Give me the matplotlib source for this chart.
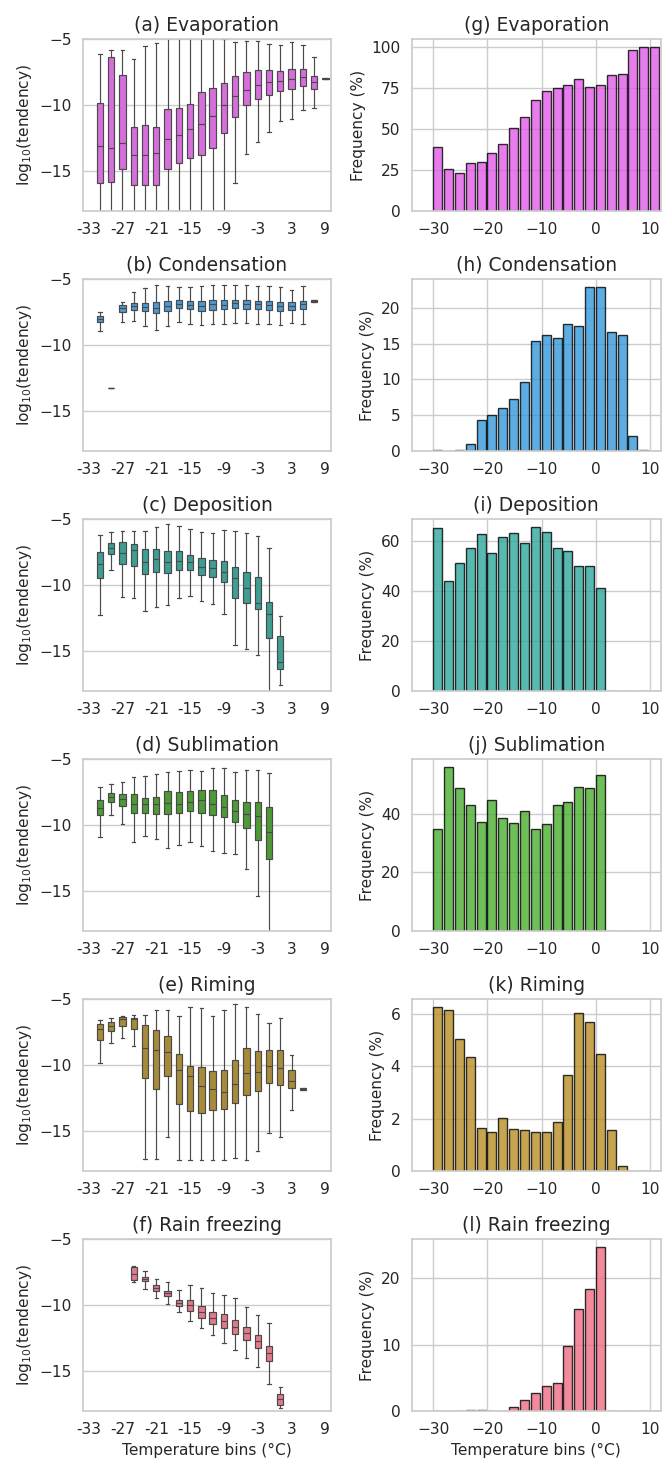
import numpy as np
import matplotlib
matplotlib.use("Agg")
import matplotlib.pyplot as plt

nan = np.nan

# ---------------- data ----------------
box_temps = list(range(-31, 10, 2))        # 21 box positions (°C)
box_ticks = [-33, -27, -21, -15, -9, -3, 3, 9]
box_ticklabels = ["-33", "-27", "-21", "-15", "-9", "-3", "3", "9"]
bar_temps = list(range(-30, 11, 2))        # 21 bars

titles_left = ["(a) Evaporation", "(b) Condensation", "(c) Deposition",
               "(d) Sublimation", "(e) Riming", "(f) Rain freezing"]
titles_right = ["(g) Evaporation", "(h) Condensation", "(i) Deposition",
                "(j) Sublimation", "(k) Riming", "(l) Rain freezing"]

# Evaporation
evap_hi = [-6.1, -5.85, -5.85, -6.5, -5.55, -5.3, -4.5, -4.5, -4.5, -4.5, -4.5, -5.0, -5.25, -5.15, -5.18, -5.38, -5.45, -5.25, -5.48, -6.36, -7.95]
evap_q3 = [-9.82, -6.38, -7.74, -11.63, -11.5, -11.63, -10.28, -10.2, -9.95, -9.02, -8.69, -8.32, -7.76, -7.51, -7.36, -7.36, -7.39, -7.26, -7.26, -7.79, -7.95]
evap_med = [-13.09, -13.27, -12.84, -13.79, -13.79, -13.64, -12.59, -12.29, -11.78, -11.4, -10.83, -9.97, -9.3, -8.84, -8.47, -8.22, -8.14, -7.99, -7.89, -8.24, -8.0]
evap_q1 = [-15.9, -15.78, -14.85, -16.05, -16.0, -16.05, -14.8, -14.35, -14.02, -13.77, -13.22, -12.14, -10.9, -9.97, -9.5, -9.22, -8.92, -8.77, -8.52, -8.77, -8.05]
evap_lo = [-19, -19, -19, -19, -19, -19, -19, -19, -19, -19, -19, -19, -15.85, -13.69, -12.76, -12.06, -11.18, -11.03, -10.4, -10.23, -8.05]

# Condensation
cond_hi = [-7.49, -13.27, -6.76, -5.98, -5.7, -5.45, -5.55, -5.6, -5.63, -5.55, -5.43, -5.45, -5.45, -5.45, -5.5, -5.53, -5.63, -5.85, -5.55, -6.55, nan]
cond_q3 = [-7.79, -13.27, -6.96, -6.83, -6.78, -6.73, -6.68, -6.61, -6.66, -6.66, -6.58, -6.58, -6.56, -6.56, -6.63, -6.63, -6.71, -6.76, -6.66, -6.55, nan]
cond_med = [-7.99, -13.27, -7.19, -7.01, -7.11, -7.19, -7.04, -6.86, -6.96, -7.01, -6.91, -6.93, -6.83, -6.86, -6.91, -6.96, -7.04, -7.04, -6.91, -6.63, nan]
cond_q1 = [-8.22, -13.27, -7.46, -7.31, -7.44, -7.56, -7.39, -7.21, -7.29, -7.39, -7.31, -7.29, -7.21, -7.24, -7.26, -7.31, -7.39, -7.36, -7.29, -6.72, nan]
cond_lo = [-8.94, -13.27, -8.22, -8.14, -8.57, -8.84, -8.52, -8.22, -8.39, -8.47, -8.42, -8.37, -8.32, -8.34, -8.39, -8.42, -8.47, -8.29, -8.42, -6.72, nan]

# Deposition
dep_hi = [-6.23, -5.98, -5.9, -5.9, -5.9, -5.6, -5.38, -5.5, -5.75, -5.98, -6.03, -5.85, -5.9, -6.06, -6.31, -7.19, -12.31, nan, nan, nan, nan]
dep_q3 = [-7.49, -6.81, -6.73, -6.88, -7.29, -7.29, -7.44, -7.44, -7.69, -7.96, -8.09, -8.17, -8.64, -9.02, -9.4, -11.28, -13.84, nan, nan, nan, nan]
dep_med = [-8.37, -7.19, -7.59, -7.34, -8.24, -8.02, -8.22, -8.14, -8.27, -8.62, -8.69, -8.97, -9.47, -10.25, -11.38, -12.19, -15.8, nan, nan, nan, nan]
dep_q1 = [-9.45, -7.64, -8.39, -8.52, -9.17, -9.02, -9.07, -8.84, -8.89, -9.27, -9.42, -9.75, -10.95, -11.38, -11.78, -14.02, -16.31, nan, nan, nan, nan]
dep_lo = [-12.29, -8.87, -10.9, -11.0, -11.96, -11.68, -11.51, -10.98, -10.8, -11.23, -11.43, -12.16, -14.55, -14.85, -15.3, -19, -17.56, nan, nan, nan, nan]

# Sublimation
sub_hi = [-7.14, -6.88, -6.76, -6.33, -6.26, -6.16, -6.0, -5.88, -5.85, -5.88, -5.68, -5.65, -6.0, -5.8, -5.8, -6.08, nan, nan, nan, nan, nan]
sub_q3 = [-8.07, -7.56, -7.66, -7.66, -7.91, -7.84, -7.44, -7.51, -7.41, -7.34, -7.36, -7.69, -8.12, -8.24, -8.27, -8.62, nan, nan, nan, nan, nan]
sub_med = [-8.72, -7.84, -8.02, -8.42, -8.39, -8.39, -8.34, -8.42, -8.22, -8.12, -8.42, -8.64, -8.92, -9.17, -9.32, -10.55, nan, nan, nan, nan, nan]
sub_q1 = [-9.25, -8.24, -8.57, -9.1, -9.05, -9.17, -9.17, -9.07, -8.94, -9.05, -9.22, -9.42, -9.77, -10.25, -11.1, -12.56, nan, nan, nan, nan, nan]
sub_lo = [-10.93, -9.22, -9.92, -11.26, -10.8, -11.08, -11.76, -11.48, -11.26, -11.56, -11.98, -12.11, -12.19, -13.29, -15.35, -19, nan, nan, nan, nan, nan]

# Riming
rime_hi = [-6.56, -6.41, -6.26, -6.21, -6.18, -5.83, -5.83, -6.26, -5.63, -5.7, -6.31, -5.83, -5.4, -5.58, -6.13, -6.81, -6.41, -9.2, -11.75, nan, nan]
rime_q3 = [-6.91, -6.76, -6.38, -6.41, -6.93, -7.34, -7.81, -9.12, -10.03, -10.13, -10.45, -10.35, -9.62, -8.74, -8.92, -8.84, -8.84, -10.38, -11.75, nan, nan]
rime_med = [-7.24, -7.01, -6.53, -6.53, -8.72, -8.89, -9.02, -10.35, -10.83, -11.56, -11.81, -12.04, -11.46, -10.6, -10.48, -10.1, -10.2, -11.16, -11.81, nan, nan]
rime_q1 = [-8.07, -7.39, -7.04, -7.26, -10.98, -11.81, -10.85, -12.96, -13.47, -13.59, -13.42, -13.34, -12.89, -12.24, -11.93, -11.36, -11.48, -11.73, -11.87, nan, nan]
rime_lo = [-9.87, -8.32, -7.91, -8.59, -17.06, -17.06, -15.43, -17.14, -17.14, -17.14, -17.14, -17.14, -17.01, -17.14, -16.46, -15.1, -15.4, -13.39, -11.87, nan, nan]

# Rain freezing
rain_hi = [nan, nan, nan, -7.05, -7.4, -8.0, -8.28, -8.85, -8.5, -8.68, -9.1, -9.2, -9.48, -10.13, -10.73, -11.33, -16.2, nan, nan, nan, nan]
rain_q3 = [nan, nan, nan, -7.13, -7.88, -8.5, -8.95, -9.58, -9.6, -10.05, -10.53, -10.7, -11.13, -11.63, -12.25, -13.05, -16.75, nan, nan, nan, nan]
rain_med = [nan, nan, nan, -7.63, -8.0, -8.7, -9.1, -9.83, -10.0, -10.53, -10.95, -11.2, -11.63, -12.08, -12.7, -13.6, -17.13, nan, nan, nan, nan]
rain_q1 = [nan, nan, nan, -8.13, -8.15, -8.95, -9.3, -10.08, -10.45, -11.0, -11.43, -11.7, -12.2, -12.65, -13.25, -14.2, -17.55, nan, nan, nan, nan]
rain_lo = [nan, nan, nan, -8.25, -8.75, -9.43, -9.95, -10.55, -11.2, -11.7, -12.25, -12.83, -13.4, -14.0, -14.68, -15.95, -17.8, nan, nan, nan, nan]

# Frequencies (%)
freq_evap = [38.9, 25.4, 22.9, 29.0, 29.6, 35.1, 41.0, 50.3, 57.4, 67.3, 73.2, 75.0, 76.7, 80.3, 75.7, 76.5, 83.0, 83.6, 97.8, 99.6, 99.7]
freq_cond = [0.14, 0.05, 0.1, 0.97, 4.4, 5.1, 6.0, 7.2, 9.7, 15.4, 16.2, 15.8, 17.8, 17.45, 22.9, 22.9, 16.6, 16.2, 2.1, 0.1, 0.05]
freq_dep = [65.1, 44.2, 51.3, 57.1, 62.9, 55.2, 61.6, 63.2, 59.2, 65.6, 63.7, 57.1, 56.0, 50.1, 50.2, 41.3, 0.1, 0.1, 0.1, 0.1, 0.1]
freq_sub = [34.9, 55.8, 48.7, 42.9, 37.1, 44.7, 38.5, 36.9, 41.0, 34.6, 36.3, 42.8, 43.8, 49.2, 48.7, 53.1, 0, 0, 0, 0, 0]
freq_rime = [6.27, 6.18, 5.04, 4.37, 1.63, 1.5, 2.01, 1.62, 1.58, 1.48, 1.48, 1.86, 3.66, 6.05, 5.71, 4.46, 1.57, 0.18, 0.01, 0.01, 0.01]
freq_rain = [0.02, 0.02, 0.03, 0.08, 0.2, 0.05, 0.05, 0.65, 1.7, 2.75, 3.75, 4.25, 9.85, 15.3, 18.35, 24.65, 0.02, 0.02, 0.02, 0.02, 0.02]

freq_yticks = [[0, 25, 50, 75, 100], [0, 5, 10, 15, 20], [0, 20, 40, 60],
               [0, 20, 40], [0, 2, 4, 6], [0, 10, 20]]

box_colors = ["#D66EDC", "#4A9AD4", "#3E9E94", "#4E9A36", "#A88B3A", "#E27A8C"]
bar_colors = ["#E25CE9", "#3498DB", "#2EA89C", "#4AAE31", "#BA8E24", "#F16D83"]

box_sets = [
    (evap_lo, evap_q1, evap_med, evap_q3, evap_hi),
    (cond_lo, cond_q1, cond_med, cond_q3, cond_hi),
    (dep_lo, dep_q1, dep_med, dep_q3, dep_hi),
    (sub_lo, sub_q1, sub_med, sub_q3, sub_hi),
    (rime_lo, rime_q1, rime_med, rime_q3, rime_hi),
    (rain_lo, rain_q1, rain_med, rain_q3, rain_hi),
]
freq_sets = [freq_evap, freq_cond, freq_dep, freq_sub, freq_rime, freq_rain]

# ---------------- style ----------------
TXT = "#262626"
GRID = "#cccccc"
plt.rcParams.update({
    "font.family": ["DejaVu Sans"],
    "axes.edgecolor": GRID,
    "axes.linewidth": 1.25,
    "axes.facecolor": "white",
    "axes.axisbelow": True,
    "grid.color": GRID,
    "grid.linewidth": 1.0,
    "text.color": TXT,
    "axes.labelcolor": TXT,
    "xtick.color": TXT,
    "ytick.color": TXT,
})

W, H = 662, 1461
fig = plt.figure(figsize=(W / 100, H / 100), dpi=100)

LINE = "#4a4a4a"
LW = 0.85
FS = 11.1
TFS = 13.5

def add_axes(x0, top, w, h):
    return fig.add_axes([x0 / W, 1 - (top + h) / H, w / W, h / H])

for i in range(6):
    top = 39 + 240 * i
    # ---- left: box plots ----
    ax = add_axes(83, top, 248, 172)
    lo, q1, med, q3, hi = box_sets[i]
    stats, pos = [], []
    for t, a, b, c, d, e in zip(box_temps, lo, q1, med, q3, hi):
        if np.isnan(c):
            continue
        stats.append(dict(whislo=a, q1=b, med=c, q3=d, whishi=e, fliers=[]))
        pos.append(t)
    ax.bxp(stats, positions=pos, widths=1.12, capwidths=0.6, patch_artist=True,
           showfliers=False,
           boxprops=dict(facecolor=box_colors[i], edgecolor=LINE, linewidth=LW),
           whiskerprops=dict(color=LINE, linewidth=LW),
           capprops=dict(color=LINE, linewidth=LW),
           medianprops=dict(color=LINE, linewidth=LW))
    ax.set_xlim(-34, 10)
    ax.set_ylim(-18, -5)
    ax.set_xticks(box_ticks)
    ax.set_xticklabels(box_ticklabels)
    ax.set_yticks([-15, -10, -5])
    ax.yaxis.grid(True)
    ax.xaxis.grid(False)
    ax.tick_params(length=0, pad=8, labelsize=FS)
    ax.set_ylabel(r"log$_{10}$(tendency)", fontsize=FS)
    ax.set_title(titles_left[i], fontsize=TFS, color=TXT)
    for s in ax.spines.values():
        s.set_color(GRID)
    if i == 5:
        ax.set_xlabel("Temperature bins (°C)", fontsize=FS)

    # ---- right: frequency bars ----
    ax2 = add_axes(411.5, top, 249.5, 172)
    ax2.bar(bar_temps, freq_sets[i], width=1.66, align="edge",
            color=bar_colors[i], alpha=0.8, edgecolor="black", linewidth=1.0)
    ax2.set_xlim(-34, 12)
    ax2.set_ylim(0, max(freq_sets[i]) * 1.05)
    ax2.set_xticks([-30, -20, -10, 0, 10])
    ax2.set_yticks(freq_yticks[i])
    ax2.grid(True)
    ax2.tick_params(length=0, pad=8, labelsize=FS)
    ax2.set_ylabel("Frequency (%)", fontsize=FS)
    ax2.set_title(titles_right[i], fontsize=TFS, color=TXT)
    for s in ax2.spines.values():
        s.set_color(GRID)
    if i == 5:
        ax2.set_xlabel("Temperature bins (°C)", fontsize=FS)

fig.savefig("out.png", dpi=100)
